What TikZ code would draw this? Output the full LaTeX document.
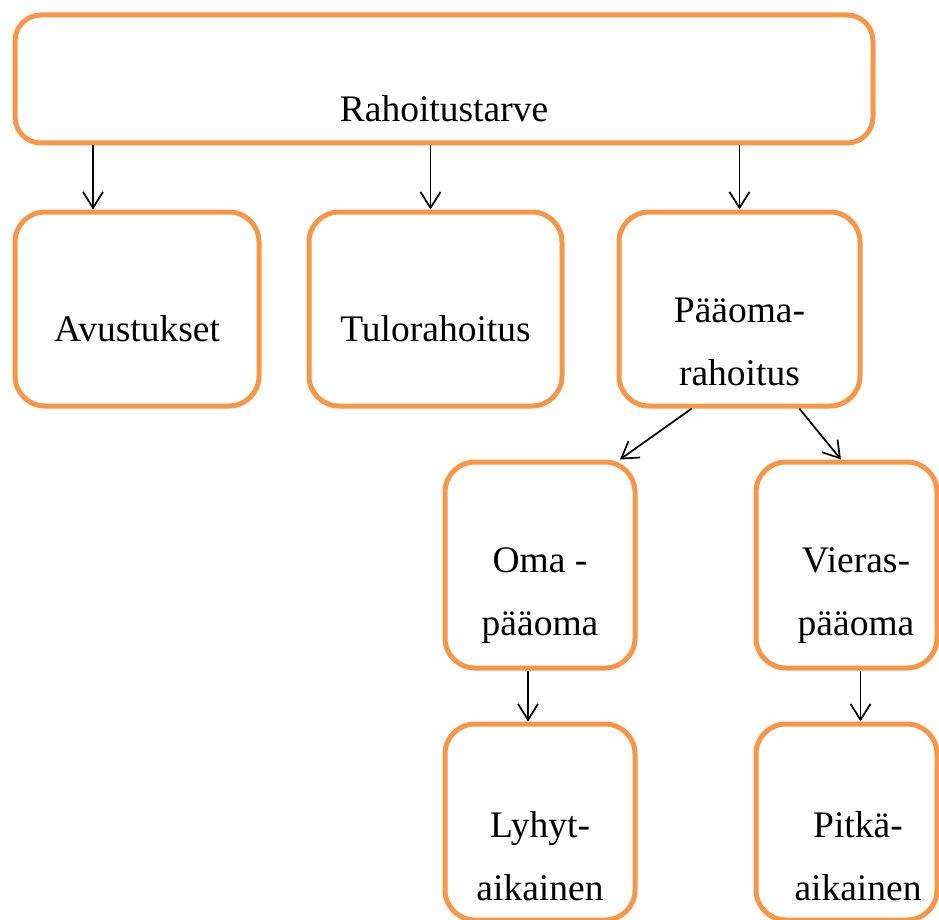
\documentclass[tikz,border=0pt]{standalone}
\usepackage{fontspec}
\setmainfont{Liberation Serif}
\usepackage{tikz}
\usetikzlibrary{positioning,arrows.meta,calc}
\definecolor{cOr}{HTML}{F79646}
\tikzset{
  box/.style={draw=cOr, line width=5pt, rounded corners=30pt, inner sep=0pt},
  txt/.style={align=center, inner sep=0pt, anchor=base,
              font=\fontsize{37.5}{62.5}\selectfont},
  ar/.style={-{Straight Barb[length=16pt, width=20pt]}, black, line width=1.7pt}
}
\begin{document}
\begin{tikzpicture}[x=1pt, y=-1pt]
\useasboundingbox (0,0) rectangle (939,920);
\clip (0,0) rectangle (939,920);
\node[box, rounded corners=26pt, minimum width=858pt, minimum height=128pt] (need) at (444,79) {};
\node[box, minimum width=244pt, minimum height=194pt] (grant) at (137,309) {};
\node[box, minimum width=253pt, minimum height=194pt] (income) at (435.5,309) {};
\node[box, minimum width=241pt, minimum height=194pt] (capital) at (739.5,309) {};
\node[box, minimum width=190pt, minimum height=206pt] (own) at (540,565) {};
\node[box, minimum width=181pt, minimum height=206pt] (debt) at (846.5,565) {};
\node[box, minimum width=190pt, minimum height=196pt] (short) at (540,822) {};
\node[box, minimum width=181pt, minimum height=196pt] (long) at (846.5,822) {};
% texts (base = last line)
\node[txt] (tNeed) at (444,122) {Rahoitustarve};
\node[txt] (tGrant) at (137,341) {Avustukset};
\node[txt] (tIncome) at (435.5,341) {Tulorahoitus};
\node[txt] (tCapital) at (739.5,385) {Pääoma-\\rahoitus};
\node[txt] (tOwn) at (540,635) {Oma -\\pääoma};
\node[txt] (tDebt) at (856,635) {Vieras-\\pääoma};
\node[txt] (tShort) at (540,900) {Lyhyt-\\aikainen};
\node[txt] (tLong) at (858,900) {Pitkä-\\aikainen};
% connectors
\coordinate (c1) at ($(grant.north)+(-44,0)$);
\coordinate (c2) at ($(income.north)+(-5,0)$);
\coordinate (c3) at (capital.north);
\draw[ar] (need.south -| c1) -- (c1);
\draw[ar] (need.south -| c2) -- (c2);
\draw[ar] (need.south -| c3) -- (c3);
\draw[ar] ($(capital.south west)!0.306!(capital.south east)$) -- ($(own.north west)!0.91!(own.north east)$);
\draw[ar] ($(capital.south west)!0.743!(capital.south east)$) -- ($(debt.north west)!0.47!(debt.north east)$);
\coordinate (c4) at ($(short.north)+(-12,0)$);
\coordinate (c5) at ($(long.north)+(14,0)$);
\draw[ar] (own.south -| c4) -- (c4);
\draw[ar] (debt.south -| c5) -- (c5);
\end{tikzpicture}
\end{document}
